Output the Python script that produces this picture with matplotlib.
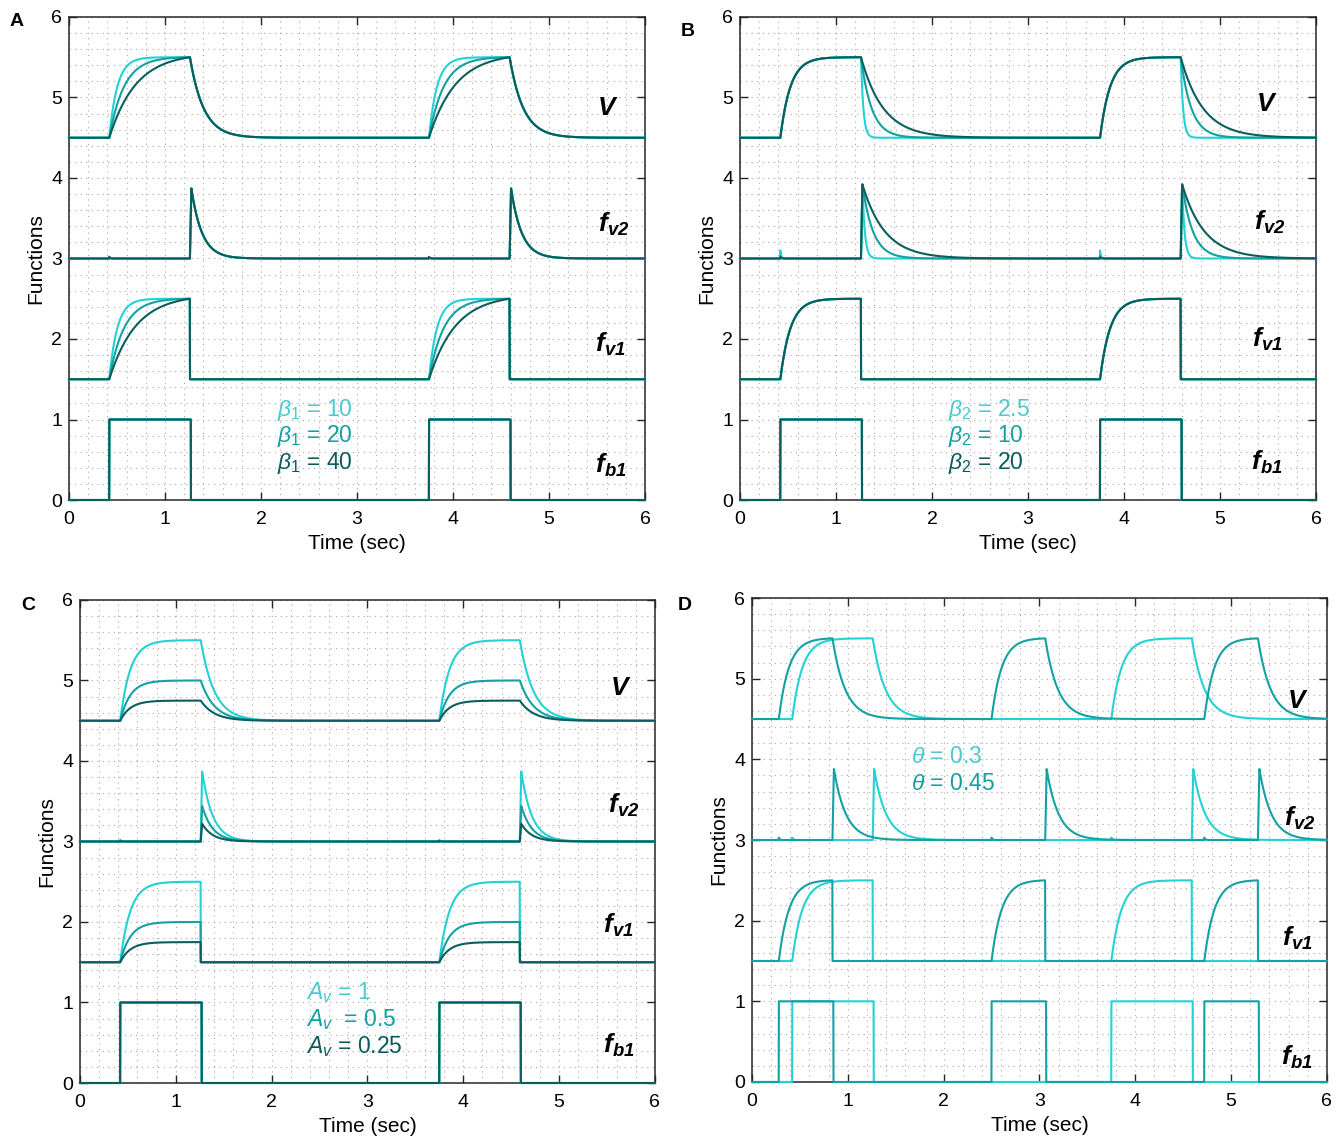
import numpy as np
import matplotlib
matplotlib.use("Agg")
import matplotlib.pyplot as plt
from matplotlib.ticker import MultipleLocator

plt.rcParams['font.family'] = ['Liberation Sans', 'DejaVu Sans']
plt.rcParams['mathtext.fontset'] = 'custom'
plt.rcParams['mathtext.rm'] = 'Liberation Sans'
plt.rcParams['mathtext.it'] = 'Liberation Sans:italic'
plt.rcParams['mathtext.bf'] = 'Liberation Sans:italic:bold'

# colours of the three parameter settings
light = '#22d2d4'
mid = '#13a1a1'
dark = '#0b5e5e'
text_cols = ['#4cc9cc', '#12a0a0', '#0c5b5b']

# stimulus on/off times (sec)
on_std = [0.42, 3.75]
off_std = [1.26, 4.59]
on_theta45 = [0.28, 2.50, 4.72]
off_theta45 = [0.84, 3.06, 5.28]

# panel A: beta1 changes the rise rate
A_labels = [r'$\mathit{\beta_1}$ = 10', r'$\mathit{\beta_1}$ = 20', r'$\mathit{\beta_1}$ = 40']
A_rise = [12.0, 6.5, 3.6]
A_decay = [7.0, 7.0, 7.0]
A_fv2_decay = [9.0, 9.0, 9.0]
A_amp = [1.0, 1.0, 1.0]
A_peak = [0.87, 0.87, 0.87]
A_spike = [0.02, 0.02, 0.02]

# panel B: beta2 changes the decay rate
B_labels = [r'$\beta_2$ = 2.5', r'$\beta_2$ = 10', r'$\beta_2$ = 20']
B_rise = [9.5, 9.5, 9.5]
B_decay = [40.0, 9.0, 4.3]
B_fv2_decay = [40.0, 9.0, 4.3]
B_amp = [1.0, 1.0, 1.0]
B_peak = [0.92, 0.92, 0.92]
B_spike = [0.1, 0.03, 0.015]

# panel C: A_v scales the amplitude
C_labels = [r'$A_v$ = 1', r'$A_v$  = 0.5', r'$A_v$ = 0.25']
C_rise = [9.5, 9.5, 9.5]
C_decay = [7.0, 7.0, 7.0]
C_fv2_decay = [9.0, 9.0, 9.0]
C_amp = [1.0, 0.5, 0.25]
C_peak = [0.87, 0.44, 0.22]
C_spike = [0.02, 0.01, 0.005]

# panel D: theta changes the stimulus timing
D_labels = [r'$\theta$ = 0.3', r'$\theta$ = 0.45']
D_rise = [9.5, 9.5]
D_decay = [7.5, 7.5]
D_fv2_decay = [8.0, 8.0]
D_peak = [0.88, 0.88]
D_spike = [0.03, 0.03]

t = np.linspace(0, 6, 6001)


def model(on, off, kr, kd, kf, amp, peak, spike):
    fb = np.zeros_like(t)
    fv1 = np.zeros_like(t)
    V = np.zeros_like(t)
    fv2 = np.zeros_like(t)
    for a, b in zip(on, off):
        m = (t >= a) & (t < b)
        rise = (1 - np.exp(-kr * (t - a))) / (1 - np.exp(-kr * (b - a)))
        fv1[m] = amp * rise[m]
        V[m] = amp * rise[m]
        fb[(t >= a) & (t < b + 0.01)] = 1.0
        aft = t >= b
        dt = t[aft] - b
        V[aft] += amp * np.exp(-kd * dt)
        ramp = np.minimum(dt / 0.015, 1.0)
        fv2[aft] += peak * ramp * np.exp(-kf * np.maximum(dt - 0.015, 0))
        fv2[m] += spike * np.exp(-100 * (t[m] - a))
    return V + 4.5, fv2 + 3.0, fv1 + 1.5, fb


def setup(ax):
    ax.set_xlim(0, 6)
    ax.set_ylim(0, 6)
    ax.xaxis.set_major_locator(MultipleLocator(1))
    ax.yaxis.set_major_locator(MultipleLocator(1))
    ax.xaxis.set_minor_locator(MultipleLocator(0.2))
    ax.yaxis.set_minor_locator(MultipleLocator(0.2))
    ax.grid(which='both', ls=(0, (1, 4)), color='#a8a8a8', lw=0.8)
    ax.tick_params(which='major', direction='in', length=6, width=1.0,
                   top=True, right=True, labelsize=14, color='#262626')
    ax.tick_params(axis='x', pad=8)
    ax.tick_params(axis='y', pad=5)
    ax.tick_params(which='minor', length=0)
    for s in ax.spines.values():
        s.set_color('#262626')
        s.set_linewidth(1.1)
    ax.set_xlabel('Time (sec)', fontsize=15, labelpad=4)
    ax.set_ylabel('Functions', fontsize=15, labelpad=4)


def names(ax, xs, ys):
    labs = [r'$\mathbf{V}$', r'$\mathbf{f_{v2}}$', r'$\mathbf{f_{v1}}$', r'$\mathbf{f_{b1}}$']
    for lab, x, y in zip(labs, xs, ys):
        ax.text(x, y, lab, fontsize=19, ha='center', va='center', color='black')


def draw(ax, on_list, off_list, cols, rise, decay, fdec, amp, peak, spike):
    for i in range(len(cols)):
        for y in model(on_list[i], off_list[i], rise[i], decay[i], fdec[i],
                       amp[i], peak[i], spike[i]):
            ax.plot(t, y, color=cols[i], lw=1.5, clip_on=False, zorder=3)


fig = plt.figure(figsize=(13.44, 11.40), dpi=100)
axA = fig.add_axes([0.0513, 0.5614, 0.4286, 0.4237])
axB = fig.add_axes([0.5506, 0.5614, 0.4286, 0.4237])
axC = fig.add_axes([0.0595, 0.0500, 0.4278, 0.4237])
axD = fig.add_axes([0.5595, 0.0509, 0.4278, 0.4245])

cols3 = [light, mid, dark]

setup(axA)
draw(axA, [on_std] * 3, [off_std] * 3, cols3, A_rise, A_decay, A_fv2_decay,
     A_amp, A_peak, A_spike)
names(axA, [5.61, 5.67, 5.64, 5.64], [4.87, 3.42, 1.93, 0.43])
for i, (lab, y) in enumerate(zip(A_labels, [1.12, 0.80, 0.46])):
    axA.text(2.17, y, lab, fontsize=16.5, color=text_cols[i], va='center')

setup(axB)
draw(axB, [on_std] * 3, [off_std] * 3, cols3, B_rise, B_decay, B_fv2_decay,
     B_amp, B_peak, B_spike)
names(axB, [5.49, 5.52, 5.49, 5.49], [4.92, 3.45, 1.99, 0.47])
for i, (lab, y) in enumerate(zip(B_labels, [1.12, 0.80, 0.46])):
    axB.text(2.17, y, lab, fontsize=16.5, color=text_cols[i], va='center')

setup(axC)
draw(axC, [on_std] * 3, [off_std] * 3, cols3, C_rise, C_decay, C_fv2_decay,
     C_amp, C_peak, C_spike)
names(axC, [5.64, 5.67, 5.62, 5.62], [4.91, 3.45, 1.96, 0.47])
for i, (lab, y) in enumerate(zip(C_labels, [1.12, 0.79, 0.45])):
    axC.text(2.36, y, lab, fontsize=16.5, color=text_cols[i], va='center')

setup(axD)
draw(axD, [on_std, on_theta45], [off_std, off_theta45], [light, mid],
     D_rise, D_decay, D_fv2_decay, [1.0, 1.0], D_peak, D_spike)
names(axD, [5.69, 5.72, 5.69, 5.69], [4.72, 3.27, 1.78, 0.30])
for i, (lab, y) in enumerate(zip(D_labels, [4.03, 3.70])):
    axD.text(1.66, y, lab, fontsize=16.5, color=text_cols[i], va='center')

for lab, x, y in [('A', 17, 22), ('B', 688, 32), ('C', 28, 605), ('D', 685, 605)]:
    fig.text(x / 1344, 1 - y / 1140, lab, fontsize=14, fontweight='bold',
             ha='center', va='center')

fig.savefig('out.png', dpi=100)
